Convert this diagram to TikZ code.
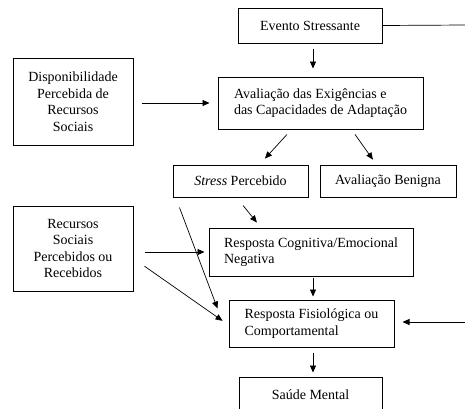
\documentclass[tikz,border=0pt]{standalone}
\usepackage{fontspec}
\setmainfont{Liberation Serif}
\newfontfamily\boxfont{Liberation Serif}
\usetikzlibrary{arrows.meta, positioning}

\begin{document}
\begin{tikzpicture}[
    x=1pt, y=1pt,
    block/.style={rectangle, draw, line width=1pt, align=center, inner sep=0pt, font=\boxfont\fontsize{14}{16.5}\selectfont},
    leftblock/.style={block, align=left},
    arrow/.style={-{Triangle[length=7pt, width=6pt]}, line width=0.7pt},
    line/.style={line width=0.7pt}
]
\useasboundingbox (0,0) rectangle (465,-408);

% Main column
\node[block, minimum width=144pt, minimum height=35pt] (evento) at (310,-25.5) {Evento Stressante};
\node[leftblock, minimum width=205pt, minimum height=52pt, below=33pt of evento, xshift=10.5pt] (aval) {Avaliação das Exigências e\\das Capacidades de Adaptação};

% Appraisal outcomes
\node[block, minimum width=135pt, minimum height=32pt, below=35pt of aval, xshift=-80pt] (stress) {\textit{Stress} Percebido};
\node[block, minimum width=136pt, minimum height=32pt, right=11pt of stress] (benigna) {Avaliação Benigna};

% Responses
\node[leftblock, minimum width=204pt, minimum height=48pt, below=30pt of stress, xshift=70.5pt] (cogn) {Resposta Cognitiva/Emocional\\Negativa};
\node[leftblock, minimum width=165pt, minimum height=47pt, below=23pt of cogn, xshift=0.5pt] (fisio) {Resposta Fisiológica ou\\Comportamental};
\node[block, minimum width=143pt, minimum height=35pt, below=29pt of fisio, xshift=-1pt] (saude) {Saúde Mental};

% Social resources
\node[block, minimum width=120pt, minimum height=87pt, left=84pt of aval, yshift=1.5pt] (disp) {Disponibilidade\\Percebida de\\Recursos\\Sociais};
\node[block, minimum width=120pt, minimum height=85pt, left=75pt of cogn, yshift=3.5pt] (recursos) {Recursos\\Sociais\\Percebidos ou\\Recebidos};

% Right edge
\coordinate (rout) at (465,-25);
\coordinate (rin) at (465,-322);

% Arrows
\draw[arrow, shorten <=5pt, shorten >=8pt] ([xshift=3pt]evento.south) -- ([xshift=-7.5pt]aval.north);
\draw[arrow, shorten <=8pt, shorten >=8pt] (disp.east |- aval.west) -- (aval.west);
\draw[arrow, shorten <=6.8pt, shorten >=8.1pt] ([xshift=-29pt]aval.south) -- ([xshift=19pt]stress.north);
\draw[arrow, shorten <=6pt, shorten >=6pt] ([xshift=31pt]aval.south) -- ([xshift=-11.6pt]benigna.north);
\draw[arrow, shorten <=10.4pt, shorten >=6.5pt] ([xshift=-4pt]stress.south) -- ([xshift=-50pt]cogn.north);
\draw[arrow, shorten <=11pt, shorten >=4pt] (recursos.east |- cogn.west) -- (cogn.west);
\draw[arrow, shorten <=13.4pt, shorten >=7.3pt] ([yshift=-10pt]recursos.east) -- ([yshift=-1.5pt]fisio.west);
\draw[arrow, shorten <=10.7pt] ([xshift=3.2pt]stress.south west) -- ([xshift=-11pt, yshift=-9pt]fisio.north west);
\draw[arrow, shorten <=1pt, shorten >=3pt] ([xshift=2pt]cogn.south) -- ([xshift=1.5pt]fisio.north);
\draw[arrow, shorten <=5pt, shorten >=4pt] ([xshift=1.5pt]fisio.south) -- ([xshift=2.5pt]saude.north);
\draw[line] (evento.east) -- (rout);
\draw[arrow, shorten >=8pt] (rin) -- (rin -| fisio.east);

\end{tikzpicture}
\end{document}
